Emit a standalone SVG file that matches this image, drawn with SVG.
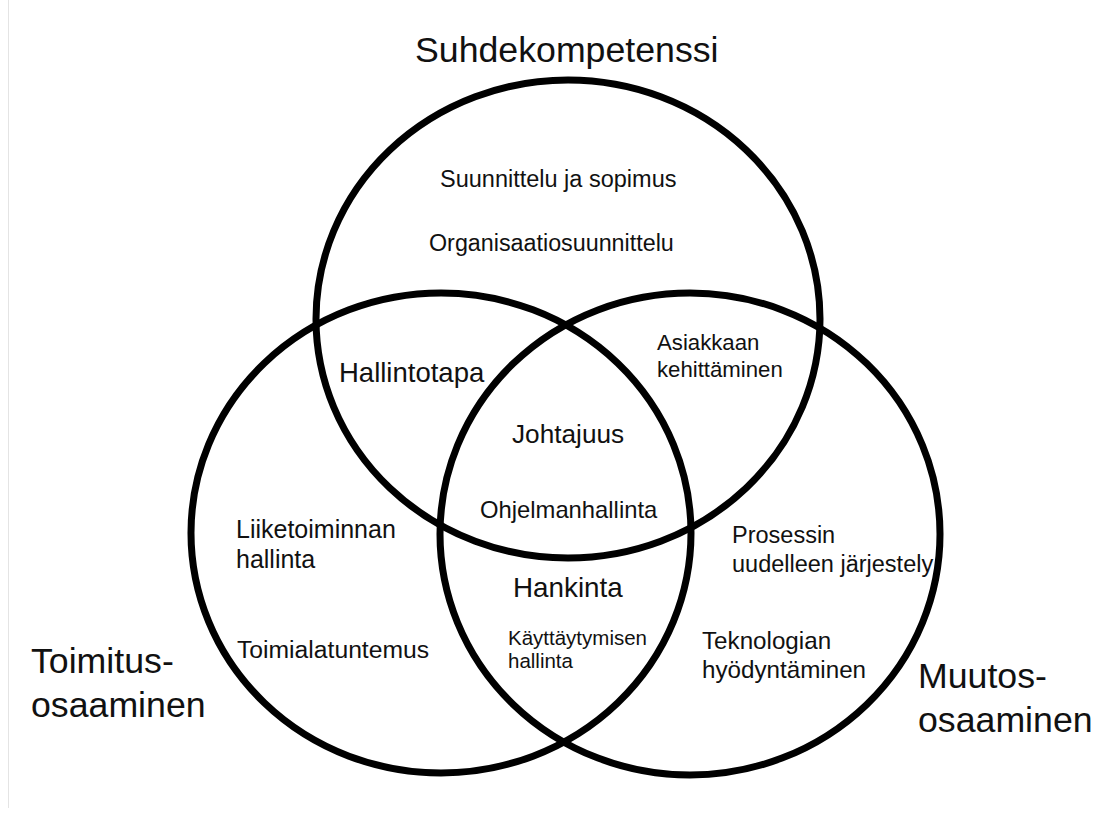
<svg xmlns="http://www.w3.org/2000/svg" width="1095" height="816" viewBox="0 0 1095 816">
<style>
.c{fill:none;stroke:#000;stroke-width:7}
text{font-family:"Liberation Sans",Arial,Helvetica,sans-serif;fill:#111}
.big{font-size:35.7px}
</style>
<rect width="1095" height="816" fill="#fff"/>
<line x1="8.5" y1="0" x2="8.5" y2="808" stroke="#e4e4e4" stroke-width="1"/>
<g id="circles">
<ellipse id="circle-suhde" class="c" cx="568" cy="319" rx="252" ry="239" stroke-width="6.5"/>
<ellipse id="circle-toimitus" class="c" cx="441" cy="533" rx="250" ry="240"/>
<ellipse id="circle-muutos" class="c" cx="690" cy="534" rx="250" ry="241"/>
</g>
<g id="title-suhde"><text class="big" x="415" y="62">Suhdekompetenssi</text></g>
<g id="title-toimitus"><text class="big" x="31" y="673">Toimitus-</text><text class="big" x="31" y="717">osaaminen</text></g>
<g id="title-muutos"><text class="big" x="918" y="688">Muutos-</text><text class="big" x="918" y="732">osaaminen</text></g>
<g id="area-suhde">
<text x="440" y="187" font-size="23.5">Suunnittelu ja sopimus</text>
<text x="429" y="251" font-size="23.3">Organisaatiosuunnittelu</text>
</g>
<g id="area-hallintotapa"><text x="339" y="382" font-size="27.5">Hallintotapa</text></g>
<g id="area-asiakas"><text x="657" y="350" font-size="22.2">Asiakkaan</text><text x="657" y="377" font-size="22.2">kehittäminen</text></g>
<g id="area-center"><text x="512" y="443" font-size="26.2">Johtajuus</text><text x="480" y="518" font-size="23.8">Ohjelmanhallinta</text></g>
<g id="area-toimitus">
<text x="236" y="538" font-size="25">Liiketoiminnan</text><text x="236" y="568" font-size="25">hallinta</text>
<text x="237" y="658" font-size="24.7">Toimialatuntemus</text>
</g>
<g id="area-hankinta">
<text x="513" y="597" font-size="27.8">Hankinta</text>
<text x="508" y="645" font-size="20.5">Käyttäytymisen</text><text x="508" y="668" font-size="20.5">hallinta</text>
</g>
<g id="area-muutos">
<text x="732" y="543" font-size="23.5">Prosessin</text><text x="732" y="572" font-size="23.5">uudelleen järjestely</text>
<text x="702" y="649" font-size="24.2">Teknologian</text><text x="702" y="678" font-size="24.2">hyödyntäminen</text>
</g>
</svg>
